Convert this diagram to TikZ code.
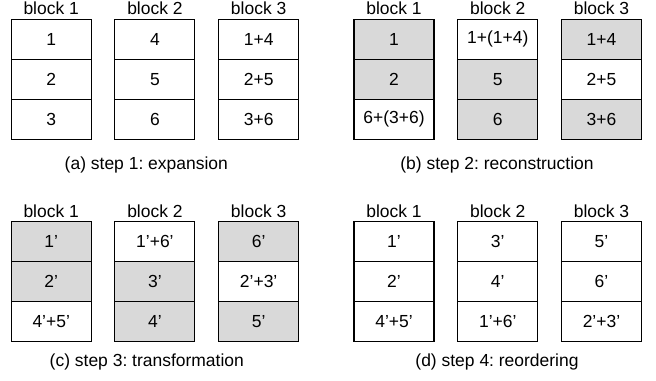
\documentclass[tikz,border=0pt]{standalone}
\usepackage{xcolor}
\usepackage{fontspec}
\setmainfont{Liberation Sans}
\usepackage{tikz}
\definecolor{cellgray}{RGB}{217,217,217}
\tikzstyle{cell} = [rectangle, minimum width=60pt, minimum height=30pt, inner sep=0pt, align=center, draw=black, fill=white, line width=0.8pt]
\tikzstyle{shaded} = [cell, fill=cellgray]
\tikzstyle{blocktitle} = [inner sep=0pt]
\tikzstyle{caption} = [inner sep=0pt, anchor=base]

\begin{document}
\frenchspacing
\begin{tikzpicture}[x=0.75pt, y=-0.75pt, node distance=30pt, font=\fontsize{13.1}{15}\selectfont]
\def \colgap{47.8pt}
\useasboundingbox (0,0) rectangle (656,381);

% (a) expansion
\node (a_b1_r1) [cell] at (51.2,39.3) {1};
\node (a_b1_r2) [cell, below of=a_b1_r1] {2};
\node (a_b1_r3) [cell, below of=a_b1_r2] {3};
\node (a_b2_r1) [cell, right of=a_b1_r1, xshift=\colgap] {4};
\node (a_b2_r2) [cell, below of=a_b2_r1] {5};
\node (a_b2_r3) [cell, below of=a_b2_r2] {6};
\node (a_b3_r1) [cell, right of=a_b2_r1, xshift=\colgap] {1+4};
\node (a_b3_r2) [cell, below of=a_b3_r1] {2+5};
\node (a_b3_r3) [cell, below of=a_b3_r2] {3+6};
\node (a_t1) [blocktitle, above of=a_b1_r1, yshift=-7pt] {block 1};
\node (a_t2) [blocktitle, above of=a_b2_r1, yshift=-7pt] {block 2};
\node (a_t3) [blocktitle, above of=a_b3_r1, yshift=-7pt] {block 3};
\node (cap_a) [caption] at (146.3,170) {(a) step 1: expansion};

% (b) reconstruction
\node (b_b1_r1) [shaded] at (394,39.3) {1};
\node (b_b1_r2) [shaded, below of=b_b1_r1] {2};
\node (b_b1_r3) [cell, below of=b_b1_r2] {6+(3+6)};
\node (b_b2_r1) [cell, right of=b_b1_r1, xshift=\colgap] {1+(1+4)};
\node (b_b2_r2) [shaded, below of=b_b2_r1] {5};
\node (b_b2_r3) [shaded, below of=b_b2_r2] {6};
\node (b_b3_r1) [shaded, right of=b_b2_r1, xshift=\colgap] {1+4};
\node (b_b3_r2) [cell, below of=b_b3_r1] {2+5};
\node (b_b3_r3) [shaded, below of=b_b3_r2] {3+6};
\node (b_t1) [blocktitle, above of=b_b1_r1, yshift=-7pt] {block 1};
\node (b_t2) [blocktitle, above of=b_b2_r1, yshift=-7pt] {block 2};
\node (b_t3) [blocktitle, above of=b_b3_r1, yshift=-7pt] {block 3};
\node (cap_b) [caption] at (497,170) {(b) step 2: reconstruction};

% (c) transformation
\node (c_b1_r1) [shaded] at (51.2,241.7) {1'};
\node (c_b1_r2) [shaded, below of=c_b1_r1] {2'};
\node (c_b1_r3) [cell, below of=c_b1_r2] {4'+5'};
\node (c_b2_r1) [cell, right of=c_b1_r1, xshift=\colgap] {1'+6'};
\node (c_b2_r2) [shaded, below of=c_b2_r1] {3'};
\node (c_b2_r3) [shaded, below of=c_b2_r2] {4'};
\node (c_b3_r1) [shaded, right of=c_b2_r1, xshift=\colgap] {6'};
\node (c_b3_r2) [cell, below of=c_b3_r1] {2'+3'};
\node (c_b3_r3) [shaded, below of=c_b3_r2] {5'};
\node (c_t1) [blocktitle, above of=c_b1_r1, yshift=-7pt] {block 1};
\node (c_t2) [blocktitle, above of=c_b2_r1, yshift=-7pt] {block 2};
\node (c_t3) [blocktitle, above of=c_b3_r1, yshift=-7pt] {block 3};
\node (cap_c) [caption] at (146.8,366) {(c) step 3: transformation};

% (d) reordering
\node (d_b1_r1) [cell] at (394,241.7) {1'};
\node (d_b1_r2) [cell, below of=d_b1_r1] {2'};
\node (d_b1_r3) [cell, below of=d_b1_r2] {4'+5'};
\node (d_b2_r1) [cell, right of=d_b1_r1, xshift=\colgap] {3'};
\node (d_b2_r2) [cell, below of=d_b2_r1] {4'};
\node (d_b2_r3) [cell, below of=d_b2_r2] {1'+6'};
\node (d_b3_r1) [cell, right of=d_b2_r1, xshift=\colgap] {5'};
\node (d_b3_r2) [cell, below of=d_b3_r1] {6'};
\node (d_b3_r3) [cell, below of=d_b3_r2] {2'+3'};
\node (d_t1) [blocktitle, above of=d_b1_r1, yshift=-7pt] {block 1};
\node (d_t2) [blocktitle, above of=d_b2_r1, yshift=-7pt] {block 2};
\node (d_t3) [blocktitle, above of=d_b3_r1, yshift=-7pt] {block 3};
\node (cap_d) [caption] at (497,366) {(d) step 4: reordering};
\end{tikzpicture}
\end{document}
